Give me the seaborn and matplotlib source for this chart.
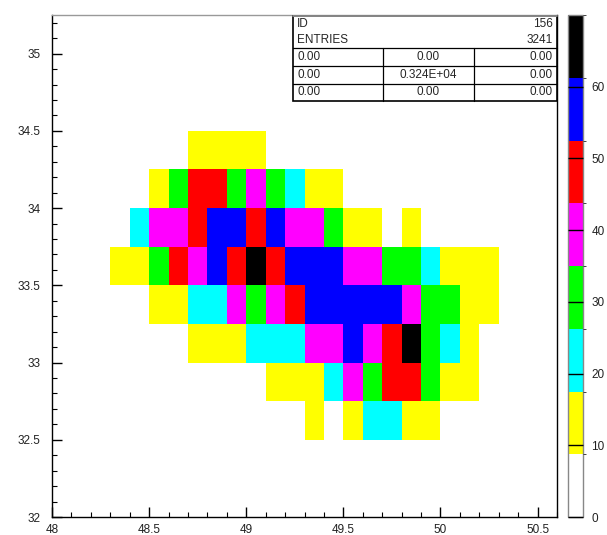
import numpy as np
import pandas as pd
import matplotlib
matplotlib.use("Agg")
import matplotlib.pyplot as plt
from matplotlib.colors import ListedColormap, BoundaryNorm
from matplotlib.ticker import MultipleLocator
import seaborn as sns

sns.set_style("white")
plt.rcParams['font.family'] = ['Liberation Sans', 'DejaVu Sans']
plt.rcParams['axes.axisbelow'] = False

# ---- data -------------------------------------------------------------
x_start, x_step, n_x = 48.0, 0.1, 26      # bins along x
y_start, y_step, n_y = 32.0, 0.25, 13     # bins along y

# class values by colour: Y yellow, C cyan, G green, M magenta, R red, B blue, K black
Y, C, G, M, R, B, K = 13, 22, 30, 39, 48, 56, 65

# each row: {x-bin index: content}, rows from bottom (32.0) upward
row_32_50 = {13: Y, 15: Y, 16: C, 17: C, 18: Y, 19: Y}
row_32_75 = {11: Y, 12: Y, 13: Y, 14: C, 15: M, 16: G, 17: R, 18: R, 19: G, 20: Y, 21: Y}
row_33_00 = {7: Y, 8: Y, 9: Y, 10: C, 11: C, 12: C, 13: M, 14: M, 15: B, 16: M, 17: R,
             18: K, 19: G, 20: C, 21: Y}
row_33_25 = {5: Y, 6: Y, 7: C, 8: C, 9: M, 10: G, 11: M, 12: R, 13: B, 14: B, 15: B, 16: B,
             17: B, 18: M, 19: G, 20: G, 21: Y, 22: Y}
row_33_50 = {3: Y, 4: Y, 5: G, 6: R, 7: M, 8: B, 9: R, 10: K, 11: R, 12: B, 13: B, 14: B,
             15: M, 16: M, 17: G, 18: G, 19: C, 20: Y, 21: Y, 22: Y}
row_33_75 = {4: C, 5: M, 6: M, 7: R, 8: B, 9: B, 10: R, 11: B, 12: M, 13: M, 14: G, 15: Y,
             16: Y, 18: Y}
row_34_00 = {5: Y, 6: G, 7: R, 8: R, 9: G, 10: M, 11: G, 12: C, 13: Y, 14: Y}
row_34_25 = {7: Y, 8: Y, 9: Y, 10: Y}

rows = {2: row_32_50, 3: row_32_75, 4: row_33_00, 5: row_33_25, 6: row_33_50,
        7: row_33_75, 8: row_34_00, 9: row_34_25}

x_tick_labels = ["48", "48.5", "49", "49.5", "50", "50.5"]
y_tick_labels = ["32", "32.5", "33", "33.5", "34", "34.5", "35"]
cbar_ticks = [0, 10, 20, 30, 40, 50, 60]
level_edges = [0, 8.75, 17.5, 26.25, 35, 43.75, 52.5, 61.25, 70]
palette = ["#ffffff", "#ffff00", "#00ffff", "#00ff00", "#ff00ff", "#ff0000", "#0000ff", "#000000"]

stats_id = "156"
stats_entries = "3241"
stats_grid = [["0.00", "0.00", "0.00"],
              ["0.00", "0.324E+04", "0.00"],
              ["0.00", "0.00", "0.00"]]

# ---- build table ------------------------------------------------------
grid = np.zeros((n_y, n_x))
for r, d in rows.items():
    for c, v in d.items():
        grid[r, c] = v
df = pd.DataFrame(grid)

# ---- figure -----------------------------------------------------------
W, H = 607, 535
fig = plt.figure(figsize=(W / 100, H / 100), dpi=100)
ax = fig.add_axes([52 / W, (H - 517) / H, 505 / W, 502 / H])
cax = fig.add_axes([568 / W, (H - 517) / H, 15 / W, 502 / H])

cmap = ListedColormap(palette)
norm = BoundaryNorm(level_edges, cmap.N)
sns.heatmap(df, ax=ax, cbar_ax=cax, cmap=cmap, norm=norm, linewidths=0,
            xticklabels=False, yticklabels=False,
            cbar_kws={"ticks": cbar_ticks})
ax.set_xlim(0, n_x)
ax.set_ylim(0, n_y)
ax.set_axisbelow(False)

# axis ticks (data value -> bin index)
xt = [(float(t) - x_start) / x_step for t in x_tick_labels]
yt = [(float(t) - y_start) / y_step for t in y_tick_labels]
ax.set_xticks(xt)
ax.set_xticklabels(x_tick_labels)
ax.set_yticks(yt)
ax.set_yticklabels(y_tick_labels)
ax.xaxis.set_minor_locator(MultipleLocator(0.1 / x_step))
ax.yaxis.set_minor_locator(MultipleLocator(0.1 / y_step))
ax.tick_params(which="major", direction="in", length=7, width=1, color="black",
               labelsize=8.5, labelcolor="#222222")
ax.tick_params(which="minor", direction="in", length=3.5, width=0.8, color="black")
ax.tick_params(axis="x", which="both", bottom=True, top=False, pad=5)
ax.tick_params(axis="y", which="both", left=True, right=False, pad=8)
for s in ["left", "bottom", "right", "top"]:
    ax.spines[s].set_visible(True)
    ax.spines[s].set_color("black")
    ax.spines[s].set_linewidth(1.0)
ax.spines["top"].set_color("#999999")
ax.set_xlabel("")
ax.set_ylabel("")

# colorbar
cb = ax.collections[0].colorbar
cb.outline.set_edgecolor("#888888")
cb.outline.set_linewidth(1.0)
cax.set_axisbelow(False)
cax.yaxis.set_ticks_position("right")
cax.tick_params(direction="in", length=11, width=1, color="black",
                labelsize=8.5, labelcolor="#222222", pad=6)

# stats box
sb = fig.add_axes([293 / W, (H - 101) / H, 264 / W, 85.5 / H])
sb.set_xlim(0, 264)
sb.set_ylim(85.5, 0)
sb.axis("off")
lw = 0.9
sb.add_patch(plt.Rectangle((0, 0), 264, 85.5, facecolor="white", edgecolor="black", lw=1.2,
                           clip_on=False))
sb.plot([0, 264], [0, 0], color="#999999", lw=1.2, clip_on=False)
for yy in [32.5, 50.5, 68]:
    sb.plot([0, 264], [yy, yy], color="black", lw=lw, clip_on=False)
for xx in [90, 181]:
    sb.plot([xx, xx], [32.5, 85.5], color="black", lw=lw, clip_on=False)
fs = 8.5
sb.text(4, 8.5, "ID", ha="left", va="center", fontsize=fs)
sb.text(260, 8.5, stats_id, ha="right", va="center", fontsize=fs)
sb.text(4, 24.5, "ENTRIES", ha="left", va="center", fontsize=fs)
sb.text(260, 24.5, stats_entries, ha="right", va="center", fontsize=fs)
row_y = [41.5, 59.2, 76.7]
for ry, vals in zip(row_y, stats_grid):
    sb.text(4, ry, vals[0], ha="left", va="center", fontsize=fs)
    sb.text(135.5, ry, vals[1], ha="center", va="center", fontsize=fs)
    sb.text(260, ry, vals[2], ha="right", va="center", fontsize=fs)

fig.savefig("out.png", dpi=100)
